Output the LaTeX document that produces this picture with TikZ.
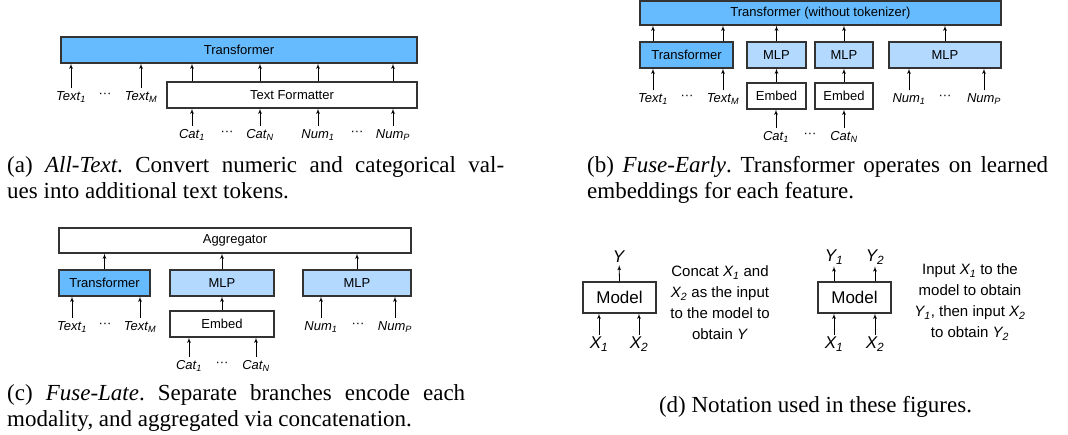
\documentclass[tikz,border=0pt]{standalone}
\usepackage{fontspec}
\setmainfont{Liberation Serif}
\setsansfont{Liberation Sans}
\usetikzlibrary{arrows}
\frenchspacing

\definecolor{bigblue}{RGB}{102,187,255}
\definecolor{mlpblue}{RGB}{179,217,255}
\newcommand{\lab}[2]{\textit{#1\textsubscript{#2}}}
\newcommand{\mydots}{\textperiodcentered\textperiodcentered\textperiodcentered}

\begin{document}
\begin{tikzpicture}[x=1pt,y=-1pt]

\tikzset{box/.style = {draw=black!80, line width=1.2pt, inner sep=0pt, minimum height=26pt, font=\sffamily\fontsize{13}{15}\selectfont}}
\tikzset{lbl/.style = {inner sep=3pt, font=\sffamily\fontsize{13}{15}\selectfont}}
\tikzset{edge/.style = {->,> = latex', line width=0.8pt}}
\tikzset{capt/.style = {inner sep=0pt, font=\rmfamily\fontsize{23}{26}\selectfont}}
\useasboundingbox (0,0) rectangle (1068,435);

%(a) all-text
\node[box, fill=bigblue, minimum width=356pt] (aT) at (239,50) {Transformer};
\node[box, minimum width=250pt] (aF) at (292,95) {Text Formatter};
\node[lbl] (at1) at (71,97) {\lab{Text}{1}};
\node[lbl] (ad1) at (105,95) {\mydots};
\node[lbl] (atm) at (141,97) {\lab{Text}{M}};
\node[lbl] (ac1) at (192,135) {\lab{Cat}{1}};
\node[lbl] (ad2) at (227,133) {\mydots};
\node[lbl] (acn) at (260,135) {\lab{Cat}{N}};
\node[lbl] (an1) at (318,135) {\lab{Num}{1}};
\node[lbl] (ad3) at (357,133) {\mydots};
\node[lbl] (anp) at (393,135) {\lab{Num}{P}};
\draw [edge] (at1) -- (at1 |- aT.south);
\draw [edge] (atm) -- (atm |- aT.south);
\draw [edge] (ac1) -- (ac1 |- aF.south);
\draw [edge] (acn) -- (acn |- aF.south);
\draw [edge] (an1) -- (an1 |- aF.south);
\draw [edge] (anp) -- (anp |- aF.south);
\draw [edge] (ac1 |- aF.north) -- (ac1 |- aT.south);
\draw [edge] (acn |- aF.north) -- (acn |- aT.south);
\draw [edge] (an1 |- aF.north) -- (an1 |- aT.south);
\draw [edge] (anp |- aF.north) -- (anp |- aT.south);
\node[capt, text width=497pt, align=justify, anchor=base west] (capa) at (7,173)
  {(a) \textit{All-Text}. Convert numeric and categorical val-\linebreak ues into additional text tokens.};

%(b) fuse-early
\node[box, fill=bigblue, minimum width=361pt, minimum height=24pt] (bTop) at (820.5,13) {Transformer (without tokenizer)};
\node[box, fill=bigblue, minimum width=93pt] (bT) at (686.5,55) {Transformer};
\node[box, fill=mlpblue, minimum width=59pt] (bM1) at (776.5,55) {MLP};
\node[box, fill=mlpblue, minimum width=58pt] (bM2) at (844,55) {MLP};
\node[box, fill=mlpblue, minimum width=112pt] (bM3) at (945,55) {MLP};
\node[box, minimum width=59pt] (bE1) at (776.5,96) {Embed};
\node[box, minimum width=58pt] (bE2) at (844,96) {Embed};
\node[lbl] (bt1) at (653,99) {\lab{Text}{1}};
\node[lbl] (bd1) at (687,97) {\mydots};
\node[lbl] (btm) at (723,99) {\lab{Text}{M}};
\node[lbl] (bn1) at (909,99) {\lab{Num}{1}};
\node[lbl] (bd2) at (945,97) {\mydots};
\node[lbl] (bnp) at (984,99) {\lab{Num}{P}};
\node[lbl] (bc1) at (776,137) {\lab{Cat}{1}};
\node[lbl] (bd3) at (810,135) {\mydots};
\node[lbl] (bcn) at (844,137) {\lab{Cat}{N}};
\draw [edge] (bt1) -- (bt1 |- bT.south);
\draw [edge] (btm) -- (btm |- bT.south);
\draw [edge] (bt1 |- bT.north) -- (bt1 |- bTop.south);
\draw [edge] (btm |- bT.north) -- (btm |- bTop.south);
\draw [edge] (bM1.north) -- (bM1.north |- bTop.south);
\draw [edge] (bM2.north) -- (bM2.north |- bTop.south);
\draw [edge] (bM3.north) -- (bM3.north |- bTop.south);
\draw [edge] (bE1) -- (bM1);
\draw [edge] (bE2) -- (bM2);
\draw [edge] (bc1) -- (bc1 |- bE1.south);
\draw [edge] (bcn) -- (bcn |- bE2.south);
\draw [edge] (bn1) -- (bn1 |- bM3.south);
\draw [edge] (bnp) -- (bnp |- bM3.south);
\node[capt, text width=461pt, align=justify, anchor=base west] (capb) at (587,173)
  {(b) \textit{Fuse-Early}. Transformer operates on learned\linebreak embeddings for each feature.};

%(c) fuse-late
\node[box, minimum width=352pt, minimum height=25pt] (cA) at (235,240.5) {Aggregator};
\node[box, fill=bigblue, minimum width=91pt] (cT) at (104.5,283) {Transformer};
\node[box, fill=mlpblue, minimum width=104pt] (cM1) at (222,283) {MLP};
\node[box, fill=mlpblue, minimum width=108pt] (cM2) at (357,283) {MLP};
\node[box, minimum width=104pt] (cE) at (222,324) {Embed};
\node[lbl] (ct1) at (72,327) {\lab{Text}{1}};
\node[lbl] (cd1) at (105,325) {\mydots};
\node[lbl] (ctm) at (140,327) {\lab{Text}{M}};
\node[lbl] (cn1) at (321,327) {\lab{Num}{1}};
\node[lbl] (cd2) at (358,325) {\mydots};
\node[lbl] (cnp) at (395,327) {\lab{Num}{P}};
\node[lbl] (cc1) at (189,366) {\lab{Cat}{1}};
\node[lbl] (cd3) at (222,364) {\mydots};
\node[lbl] (ccn) at (256,366) {\lab{Cat}{N}};
\draw [edge] (cT.north) -- (cT.north |- cA.south);
\draw [edge] (cM1.north) -- (cM1.north |- cA.south);
\draw [edge] (cM2.north) -- (cM2.north |- cA.south);
\draw [edge] (cE) -- (cM1);
\draw [edge] (ct1) -- (ct1 |- cT.south);
\draw [edge] (ctm) -- (ctm |- cT.south);
\draw [edge] (cn1) -- (cn1 |- cM2.south);
\draw [edge] (cnp) -- (cnp |- cM2.south);
\draw [edge] (cc1) -- (cc1 |- cE.south);
\draw [edge] (ccn) -- (ccn |- cE.south);
\node[capt, text width=458pt, align=justify, anchor=base west] (capc) at (7,400)
  {(c) \textit{Fuse-Late}. Separate branches encode each\linebreak modality, and aggregated via concatenation.};

%(d) notation
\tikzset{dlbl/.style = {inner sep=2pt, font=\sffamily\fontsize{17}{19}\selectfont}}
\tikzset{dtxt/.style = {inner sep=0pt, align=center, font=\sffamily\fontsize{15}{21}\selectfont}}
\node[box, minimum width=73pt, minimum height=31pt, font=\sffamily\fontsize{17}{19}\selectfont] (m1) at (619.5,297.5) {Model};
\node[dlbl] (y0) at (619,257) {\textit{Y}};
\node[dlbl] (x11) at (599,344) {\lab{X}{1}};
\node[dlbl] (x12) at (639,344) {\lab{X}{2}};
\draw [edge] (m1.north) -- (y0);
\draw [edge] (x11) -- (x11 |- m1.south);
\draw [edge] (x12) -- (x12 |- m1.south);
\node[dtxt] (t1) at (720,303) {Concat \lab{X}{1} and\\\lab{X}{2} as the input\\to the model to\\obtain \textit{Y}};
\node[box, minimum width=73pt, minimum height=31pt, font=\sffamily\fontsize{17}{19}\selectfont] (m2) at (854.5,297.5) {Model};
\node[dlbl] (y1) at (834,257) {\lab{Y}{1}};
\node[dlbl] (y2) at (875,257) {\lab{Y}{2}};
\node[dlbl] (x21) at (834,344) {\lab{X}{1}};
\node[dlbl] (x22) at (875,344) {\lab{X}{2}};
\draw [edge] (y1 |- m2.north) -- (y1);
\draw [edge] (y2 |- m2.north) -- (y2);
\draw [edge] (x21) -- (x21 |- m2.south);
\draw [edge] (x22) -- (x22 |- m2.south);
\node[dtxt] (t2) at (970,302) {Input \lab{X}{1} to the\\model to obtain\\\lab{Y}{1}, then input \lab{X}{2}\\to obtain \lab{Y}{2}};
\node[capt, anchor=base] (capd) at (815.5,412) {(d) Notation used in these figures.};

\end{tikzpicture}
\end{document}
